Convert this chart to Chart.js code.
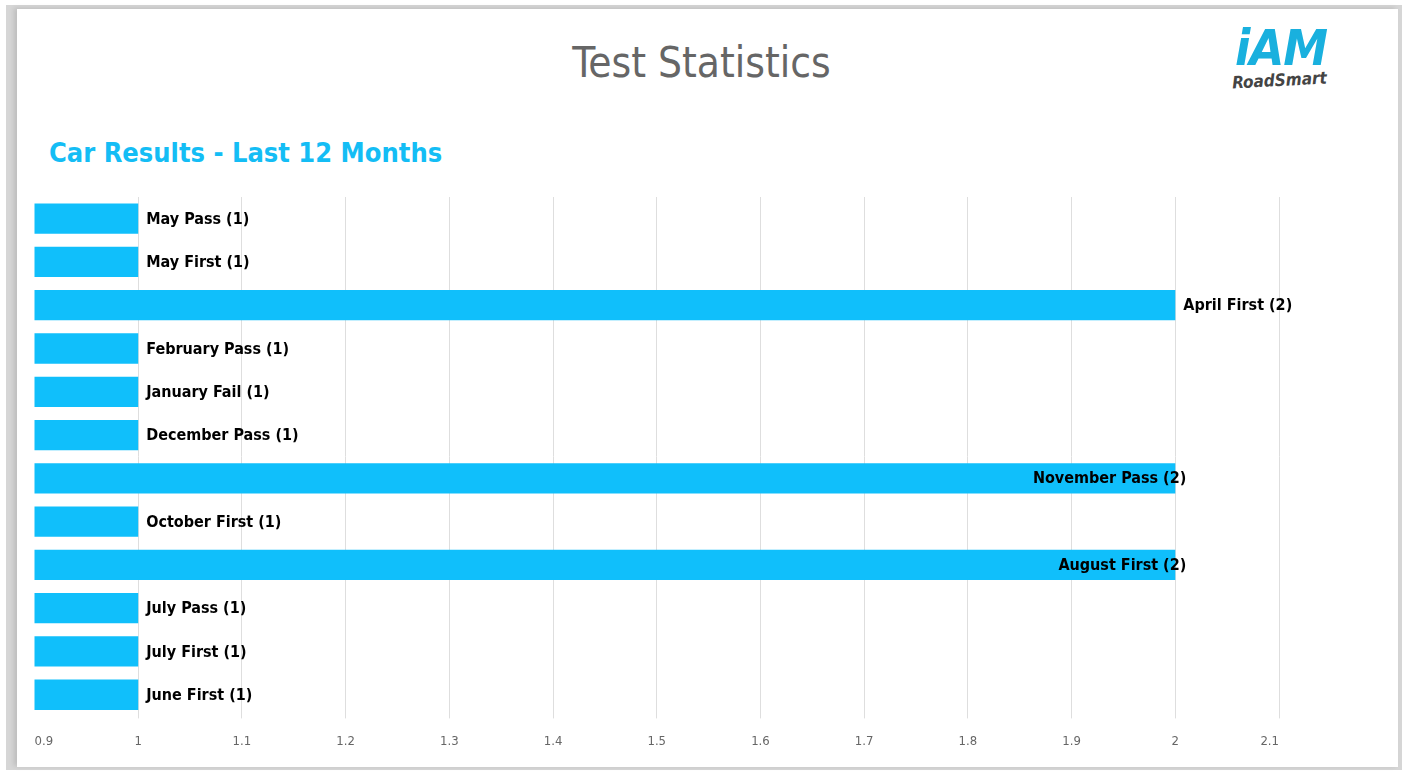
<!DOCTYPE html>
<html>
<head>
<meta charset="utf-8">
<script src="https://cdn.jsdelivr.net/npm/chart.js@4"></script>
<style>
  html, body { margin: 0; padding: 0; background: #fff; }
  body { width: 1406px; height: 771px; position: relative; overflow: hidden; font-family: "DejaVu Sans Condensed", "DejaVu Sans", sans-serif; }
  .frame { position: absolute; left: 6px; top: 5px; width: 1396px; height: 765px; background: #d6d6d6; }
  .card { position: absolute; left: 17px; top: 9px; width: 1381px; height: 758px; background: #fff; box-shadow: -3px -1px 5px rgba(0,0,0,0.12); }
  .title { position: absolute; left: -6px; width: 1381px; top: 29px; text-align: center; color: #666; font-size: 42px; }
  .subtitle { position: absolute; left: 32px; top: 128px; color: #14bdf5; font-size: 27px; font-weight: bold; }
  .logo { position: absolute; left: 1218px; top: 14px; }
  .logo .iam { color: #19b0de; font-size: 50px; font-weight: bold; font-style: italic; letter-spacing: -1px; line-height: 50px; }
  .logo .rs { color: #444; font-size: 17px; font-weight: bold; font-style: italic; margin-top: -3px; margin-left: -3px; transform: rotate(-3deg); }
  .chart-box { position: absolute; left: 0; top: 0; width: 1381px; height: 758px; }
</style>
</head>
<body>
<div class="frame"></div>
<div class="card">
  <div class="title">Test Statistics</div>
  <div class="subtitle">Car Results - Last 12 Months</div>
  <div class="logo"><div class="iam">iAM</div><div class="rs">RoadSmart</div></div>
  <div class="chart-box"><canvas id="chart"></canvas></div>
</div>
<script>
// data, top to bottom
const months = ['May', 'May', 'April', 'February', 'January', 'December', 'November', 'October', 'August', 'July', 'July', 'June'];
const results = ['Pass', 'First', 'First', 'Pass', 'Fail', 'Pass', 'Pass', 'First', 'First', 'Pass', 'First', 'First'];
const counts = [1, 1, 2, 1, 1, 1, 2, 1, 2, 1, 1, 1];
const xTicks = [0.9, 1, 1.1, 1.2, 1.3, 1.4, 1.5, 1.6, 1.7, 1.8, 1.9, 2, 2.1];

const labels = months.map((m, i) => `${m} ${results[i]}`);
const labelFont = 'bold 16px "DejaVu Sans Condensed", "DejaVu Sans", sans-serif';

// draws "Month Result (n)" next to each bar, inside if it would run off
const barLabels = {
  id: 'barLabels',
  afterDatasetsDraw(chart) {
    const ctx = chart.ctx;
    const area = chart.chartArea;
    const meta = chart.getDatasetMeta(0);
    ctx.save();
    ctx.font = labelFont;
    ctx.fillStyle = '#000';
    ctx.textBaseline = 'middle';
    meta.data.forEach((bar, i) => {
      const text = `${labels[i]} (${counts[i]})`;
      const w = ctx.measureText(text).width;
      if (bar.x + 6 + w > area.right + 14) {
        ctx.textAlign = 'right';
        ctx.fillText(text, bar.x + 11, bar.y + 1);
      } else {
        ctx.textAlign = 'left';
        ctx.fillText(text, bar.x + 8, bar.y + 1);
      }
    });
    ctx.restore();
  }
};

new Chart(document.getElementById('chart'), {
  type: 'bar',
  data: {
    labels: labels,
    datasets: [{
      data: counts,
      backgroundColor: '#10bffb',
      borderWidth: 0,
      categoryPercentage: 1,
      barPercentage: 0.7
    }]
  },
  options: {
    indexAxis: 'y',
    responsive: true,
    maintainAspectRatio: false,
    animation: false,
    layout: { padding: { left: 17.5, right: 119, top: 188, bottom: 3 } },
    plugins: { legend: { display: false }, tooltip: { enabled: false } },
    scales: {
      x: {
        min: xTicks[0],
        max: xTicks[xTicks.length - 1],
        afterBuildTicks: (axis) => { axis.ticks = xTicks.map(v => ({ value: v })); },
        border: { display: false },
        grid: {
          color: (c) => c.index === 0 ? 'rgba(0,0,0,0)' : '#dedede',
          tickLength: 2
        },
        ticks: {
          color: '#666',
          padding: 15,
          align: 'inner',
          font: { family: '"DejaVu Sans Condensed", "DejaVu Sans", sans-serif', size: 13 },
          callback: (v) => String(Number(v.toFixed(1)))
        }
      },
      y: { display: false }
    }
  },
  plugins: [barLabels]
});
</script>
</body>
</html>
